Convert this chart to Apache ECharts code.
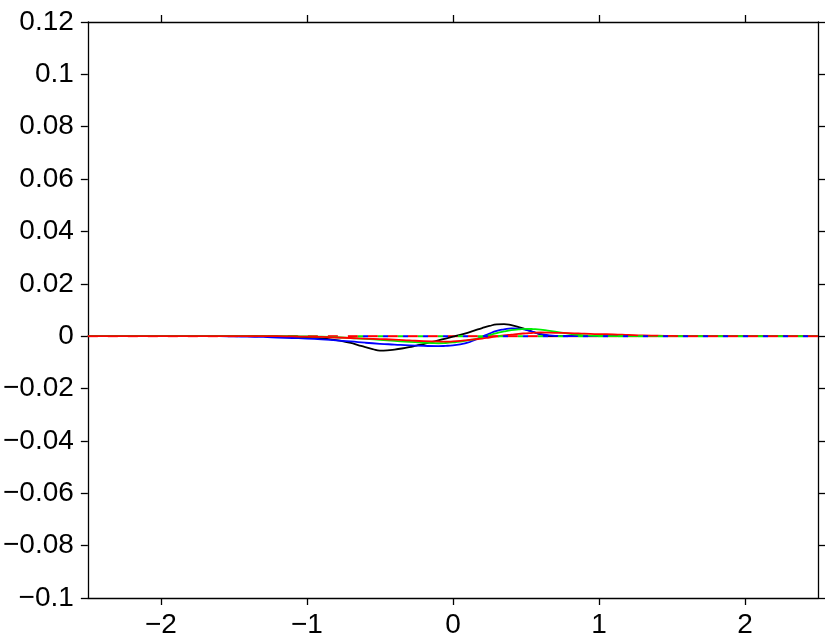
<!DOCTYPE html>
<html>
<head>
<meta charset="utf-8">
<script src="https://cdn.jsdelivr.net/npm/echarts@6/dist/echarts.min.js"></script>
<style>
html,body{margin:0;padding:0;background:#fff;}
#chart{width:830px;height:639px;}
</style>
</head>
<body>
<div id="chart"></div>
<script>
// Tick values
const xTicks = [-2, -1, 0, 1, 2];
const yMin = -0.1, yMax = 0.12, yStep = 0.02;
const xMin = -2.5, xMax = 2.5;

// Black solid curve
const blackX = [-2.5, -1.3, -1.2, -1.1, -1.0, -0.95, -0.9, -0.85, -0.8, -0.75, -0.7, -0.65, -0.6, -0.55, -0.5, -0.45, -0.4, -0.35, -0.3, -0.25, -0.2, -0.15, -0.1, -0.05, 0.0, 0.05, 0.1, 0.15, 0.2, 0.25, 0.3, 0.35, 0.4, 0.45, 0.5, 0.55, 0.6, 0.65, 0.7, 0.8, 2.5];
const blackY = [0, 0, -0.0001, -0.0002, -0.0004, -0.0006, -0.0008, -0.0011, -0.0015, -0.0020, -0.0026, -0.0034, -0.0042, -0.0049, -0.0055, -0.0054, -0.0051, -0.0047, -0.0042, -0.0036, -0.0030, -0.0023, -0.0016, -0.0009, -0.0002, 0.0005, 0.0013, 0.0022, 0.0031, 0.0039, 0.0045, 0.0046, 0.0042, 0.0035, 0.0026, 0.0016, 0.0007, 0.0002, 0.0000, 0, 0];

// Blue solid curve
const blueX = [-2.5, -1.6, -1.5, -1.4, -1.3, -1.2, -1.1, -1.0, -0.9, -0.8, -0.7, -0.6, -0.5, -0.4, -0.3, -0.2, -0.1, -0.05, 0.0, 0.05, 0.1, 0.15, 0.2, 0.25, 0.3, 0.35, 0.4, 0.45, 0.5, 0.55, 0.6, 0.65, 0.7, 0.8, 2.5];
const blueY = [0, 0, -0.0001, -0.0002, -0.0003, -0.0005, -0.0007, -0.0009, -0.0012, -0.0016, -0.0020, -0.0025, -0.0029, -0.0032, -0.0035, -0.0037, -0.0038, -0.0037, -0.0035, -0.0031, -0.0025, -0.0014, -0.0002, 0.0010, 0.0020, 0.0026, 0.0030, 0.0029, 0.0024, 0.0016, 0.0009, 0.0004, 0.0001, 0, 0];

// Green solid curve
const greenX = [-2.5, -1.1, -1.0, -0.9, -0.8, -0.7, -0.6, -0.5, -0.4, -0.3, -0.2, -0.15, -0.1, -0.05, 0.0, 0.05, 0.1, 0.15, 0.2, 0.25, 0.3, 0.35, 0.4, 0.45, 0.5, 0.55, 0.6, 0.65, 0.7, 0.8, 0.9, 1.0, 1.1, 2.5];
const greenY = [0, 0, -0.0001, -0.0002, -0.0004, -0.0007, -0.0010, -0.0014, -0.0018, -0.0022, -0.0025, -0.0026, -0.0027, -0.0026, -0.0024, -0.0021, -0.0016, -0.0011, -0.0004, 0.0004, 0.0012, 0.0018, 0.0023, 0.0026, 0.0028, 0.0027, 0.0025, 0.0021, 0.0017, 0.0009, 0.0003, 0.0001, 0, 0];

// Red solid curve
const redX = [-2.5, -1.2, -1.1, -1.0, -0.9, -0.8, -0.7, -0.6, -0.5, -0.4, -0.3, -0.2, -0.1, -0.05, 0.0, 0.05, 0.1, 0.15, 0.2, 0.25, 0.3, 0.35, 0.4, 0.45, 0.5, 0.55, 0.6, 0.7, 0.8, 0.9, 1.0, 1.1, 1.2, 1.3, 1.4, 1.5, 1.6, 1.7, 2.5];
const redY = [0, 0, -0.0001, -0.0002, -0.0003, -0.0005, -0.0007, -0.0009, -0.0011, -0.0013, -0.0016, -0.0019, -0.0020, -0.0021, -0.0020, -0.0018, -0.0015, -0.0012, -0.0009, -0.0005, -0.0001, 0.0003, 0.0006, 0.0009, 0.0011, 0.0013, 0.0014, 0.0013, 0.0012, 0.0010, 0.0008, 0.0007, 0.0005, 0.0003, 0.0002, 0.0001, 0, 0, 0];

// Dashed zero reference lines
const redDashX = [-2.5, 2.5];
const redDashY = [0, 0];
const gbDashX = [-0.65, 2.5];
const gbDashY = [0, 0];

function pairs(xs, ys) { return xs.map((x, i) => [x, ys[i]]); }

const FONT = 'Liberation Sans';
const FS = 28;

function fmtY(v) {
  const r = Math.round(v * 100) / 100;
  let s = (r === 0 ? 0 : r).toString();
  return s.replace('-', '\u2212');
}
function fmtX(v) {
  return String(Math.round(v)).replace('-', '\u2212');
}

const chart = echarts.init(document.getElementById('chart'), null, {renderer: 'canvas'});

const lineStyleAxis = {color: '#000', width: 1.3};

chart.setOption({
  animation: false,
  backgroundColor: '#fff',
  grid: {left: 87, right: 12, top: 22, bottom: 40, containLabel: false},
  xAxis: [
    {
      type: 'value', min: xMin, max: xMax, position: 'bottom',
      axisLine: {show: true, onZero: false, lineStyle: lineStyleAxis},
      axisTick: {show: true, length: 7, inside: false, customValues: xTicks, lineStyle: lineStyleAxis},
      axisLabel: {show: true, customValues: xTicks, formatter: fmtX, margin: 13, fontFamily: FONT, fontSize: FS, color: '#000'},
      splitLine: {show: false}
    },
    {
      type: 'value', min: xMin, max: xMax, position: 'top',
      axisLine: {show: true, onZero: false, lineStyle: lineStyleAxis},
      axisTick: {show: true, length: 7, inside: false, customValues: xTicks, lineStyle: lineStyleAxis},
      axisLabel: {show: false},
      splitLine: {show: false}
    }
  ],
  yAxis: [
    {
      type: 'value', min: yMin, max: yMax, interval: yStep, position: 'left',
      axisLine: {show: true, onZero: false, lineStyle: lineStyleAxis},
      axisTick: {show: true, length: 7, inside: false, lineStyle: lineStyleAxis},
      axisLabel: {show: true, formatter: fmtY, margin: 14, fontFamily: FONT, fontSize: FS, color: '#000'},
      splitLine: {show: false}
    },
    {
      type: 'value', min: yMin, max: yMax, interval: yStep, position: 'right',
      axisLine: {show: true, onZero: false, lineStyle: lineStyleAxis},
      axisTick: {show: true, length: 7, inside: false, lineStyle: lineStyleAxis},
      axisLabel: {show: false},
      splitLine: {show: false}
    }
  ],
  series: [
    {type: 'line', data: pairs(redDashX, redDashY), symbol: 'none', lineStyle: {color: '#ff0000', width: 2, type: [10, 10]}, z: 2},
    {type: 'line', data: pairs(blackX, blackY), smooth: true, symbol: 'none', lineStyle: {color: '#000000', width: 1.8}, z: 3},
    {type: 'line', data: pairs(blueX, blueY), smooth: true, symbol: 'none', lineStyle: {color: '#0000ff', width: 1.8}, z: 3},
    {type: 'line', data: pairs(greenX, greenY), smooth: true, symbol: 'none', lineStyle: {color: '#00ee00', width: 1.8}, z: 3},
    {type: 'line', data: pairs(redX, redY), smooth: true, symbol: 'none', lineStyle: {color: '#ff0000', width: 1.8}, z: 4},
    {type: 'line', data: pairs(gbDashX, gbDashY), symbol: 'none', lineStyle: {color: '#00ee00', width: 2, type: [5, 15], dashOffset: 0}, z: 5},
    {type: 'line', data: pairs(gbDashX, gbDashY), symbol: 'none', lineStyle: {color: '#0000ff', width: 2, type: [5, 15], dashOffset: -5}, z: 5}
  ]
});
</script>
</body>
</html>
